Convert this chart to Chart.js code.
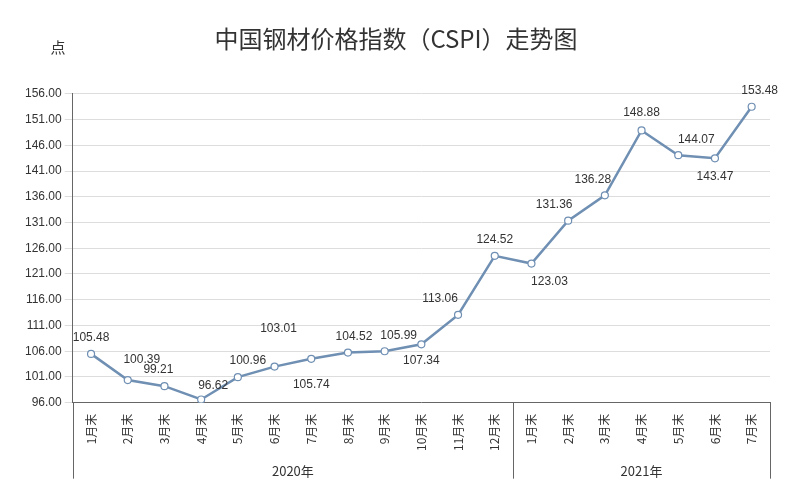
<!DOCTYPE html>
<html><head><meta charset="utf-8">
<script src="https://cdn.jsdelivr.net/npm/chart.js@4"></script>
<style>body{margin:0;background:#fff}#w{width:800px;height:500px;position:relative}</style>
</head><body><div id="w"><canvas id="c"></canvas></div>
<script>
const categories = ["1月末","2月末","3月末","4月末","5月末","6月末","7月末","8月末","9月末","10月末","11月末","12月末","1月末","2月末","3月末","4月末","5月末","6月末","7月末"];
const values = [105.48,100.39,99.21,96.62,100.96,103.01,104.52,105.74,105.99,107.34,113.06,124.52,123.03,131.36,136.28,148.88,144.07,143.47,153.48];
const labelTexts = ["105.48","100.39","99.21","96.62","100.96","103.01","105.74","104.52","105.99","107.34","113.06","124.52","123.03","131.36","136.28","148.88","144.07","143.47","153.48"];
const years = ["2020年","2021年"];
const yearCounts = [12,7];
const yTicks = [96,101,106,111,116,121,126,131,136,141,146,151,156];

const labelOffsets = [[0,-16],[14,-20],[-6,-16],[12,-14],[10,-16],[4,-38],[0,26],[6,-16],[14,-16],[0,16],[-18,-16],[0,-16],[18,18],[-14,-16],[-12,-16],[0,-18],[18,-16],[0,18],[8,-16]];

const deco = {
  id:'deco',
  afterDraw(chart){
    const ctx=chart.ctx, x=chart.scales.x, a=chart.chartArea;
    const meta=chart.getDatasetMeta(0);
    ctx.save();
    ctx.font='12px "Liberation Sans", Arial';
    ctx.fillStyle='#333';ctx.textAlign='center';ctx.textBaseline='middle';
    meta.data.forEach((p,i)=>{ctx.fillText(labelTexts[i],p.x+labelOffsets[i][0],p.y+labelOffsets[i][1]);});
    ctx.strokeStyle='#666';ctx.lineWidth=1;
    const step=(a.right-a.left)/categories.length;
    let start=0;const bounds=[a.left];
    yearCounts.forEach(n=>{start+=n;bounds.push(a.left+start*step);});
    bounds.forEach(b=>{ctx.beginPath();ctx.moveTo(Math.round(b)+0.5,a.bottom);ctx.lineTo(Math.round(b)+0.5,a.bottom+76);ctx.stroke();});
    ctx.font='13px "Noto Sans CJK SC"';
    years.forEach((y,i)=>{ctx.fillText(y,(bounds[i]+bounds[i+1])/2,a.bottom+68);});
    ctx.font='15px "Noto Sans CJK SC"';
    ctx.fillText('点',58,47);
    ctx.restore();
  }
};

new Chart(document.getElementById('c'),{
  type:'line',
  data:{labels:categories,datasets:[{data:values,borderColor:'#6f8fb3',borderWidth:2.5,tension:0,
    pointRadius:3.5,pointBackgroundColor:'#fff',pointBorderColor:'#6f8fb3',pointBorderWidth:1.2}]},
  options:{responsive:true,maintainAspectRatio:false,animation:false,
    layout:{padding:{left:22,right:30,top:0,bottom:46}},
    plugins:{legend:{display:false},tooltip:{enabled:false},
      title:{display:true,text:'中国钢材价格指数（CSPI）走势图',font:{family:'"Noto Sans CJK SC"',size:24,weight:'normal'},color:'#333',padding:{top:24,bottom:41}}},
    scales:{
      x:{offset:true,grid:{display:false},border:{color:'#666'},
        ticks:{maxRotation:90,minRotation:90,autoSkip:false,color:'#333',font:{family:'"Noto Sans CJK SC"',size:12}}},
      y:{min:96,max:156,afterBuildTicks(s){s.ticks=yTicks.map(v=>({value:v}));},
        grid:{color:'#ddd'},border:{color:'#666'},
        ticks:{color:'#333',font:{family:'"Liberation Sans", Arial',size:12},callback:v=>v.toFixed(2)}}
    }
  },
  plugins:[deco]
});
</script></body></html>
